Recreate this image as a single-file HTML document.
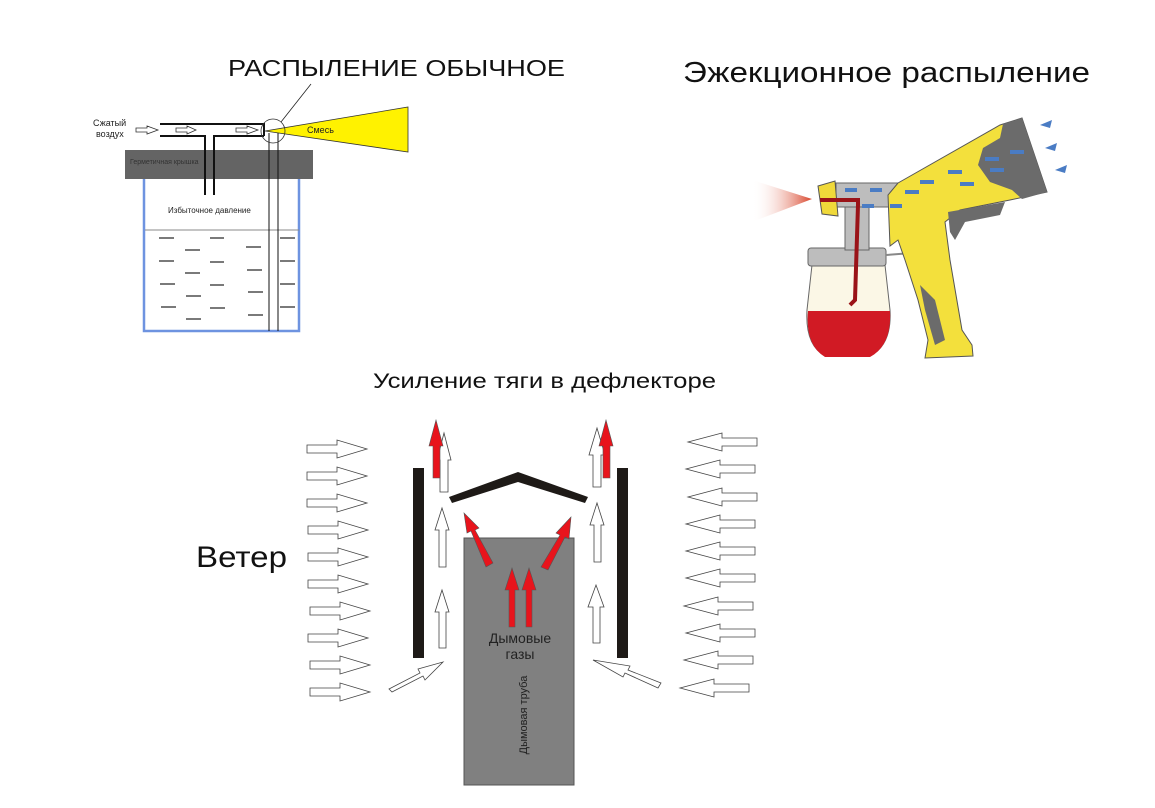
<!DOCTYPE html>
<html><head><meta charset="utf-8"><style>
html,body{margin:0;padding:0;background:#fff;}
svg{display:block;font-family:"Liberation Sans",Arial,sans-serif;}
</style></head><body>
<svg width="1155" height="808" viewBox="0 0 1155 808" xmlns="http://www.w3.org/2000/svg">
<defs>
<linearGradient id="spray" x1="0" x2="1" y1="0" y2="0">
<stop offset="0" stop-color="#fff" stop-opacity="0"/><stop offset="1" stop-color="#d8442a"/></linearGradient>
</defs>

<!-- ===== Top-left diagram ===== -->
<text x="228" y="76" font-size="23" fill="#111" textLength="337" lengthAdjust="spacingAndGlyphs">РАСПЫЛЕНИЕ ОБЫЧНОЕ</text>
<line x1="281" y1="122" x2="311" y2="84" stroke="#222" stroke-width="0.8"/>
<rect x="125" y="150" width="188" height="29" fill="#646464"/>
<text x="130" y="164" font-size="7" fill="#333">Герметичная крышка</text>
<path d="M144 179 V331 H299 V179" fill="none" stroke="#6e93e0" stroke-width="2.5"/>
<line x1="145" y1="230" x2="299" y2="230" stroke="#888" stroke-width="1"/>
<text x="168" y="213" font-size="8" fill="#222">Избыточное давление</text>
<polygon points="265,131 408,107 408,152" fill="#fff200" stroke="#333" stroke-width="0.8"/>
<text x="307" y="133" font-size="9" fill="#222">Смесь</text>
<path d="M160 124 H264 V136 M160 136 H205 V195 M214 195 V136 H264" fill="none" stroke="#111" stroke-width="2"/>
<line x1="269" y1="133" x2="269" y2="331" stroke="#111" stroke-width="1"/>
<line x1="278" y1="133" x2="278" y2="331" stroke="#111" stroke-width="1"/>
<circle cx="273" cy="131" r="12" fill="none" stroke="#333" stroke-width="0.8"/>
<text x="93" y="126" font-size="9" fill="#222">Сжатый</text>
<text x="96" y="137" font-size="9" fill="#222">воздух</text>
<g fill="#fff" stroke="#333" stroke-width="0.8">
<polygon points="136,128 147,128 147,126 158,130 147,134 147,132 136,132"/>
<polygon points="176,128 187,128 187,126 196,130 187,134 187,132 176,132"/>
<polygon points="236,128 247,128 247,126 258,130 247,134 247,132 236,132"/>
</g>
<g stroke="#222" stroke-width="1.2">
<line x1="159" y1="238" x2="174" y2="238"/><line x1="210" y1="238" x2="224" y2="238"/><line x1="246" y1="247" x2="261" y2="247"/><line x1="280" y1="238" x2="295" y2="238"/>
<line x1="185" y1="250" x2="200" y2="250"/>
<line x1="159" y1="261" x2="174" y2="261"/><line x1="210" y1="262" x2="224" y2="262"/><line x1="247" y1="270" x2="262" y2="270"/><line x1="280" y1="261" x2="295" y2="261"/>
<line x1="185" y1="273" x2="200" y2="273"/>
<line x1="160" y1="284" x2="175" y2="284"/><line x1="210" y1="285" x2="224" y2="285"/><line x1="248" y1="292" x2="263" y2="292"/><line x1="280" y1="284" x2="295" y2="284"/>
<line x1="186" y1="296" x2="201" y2="296"/>
<line x1="161" y1="307" x2="176" y2="307"/><line x1="210" y1="308" x2="225" y2="308"/><line x1="248" y1="315" x2="263" y2="315"/><line x1="280" y1="307" x2="295" y2="307"/>
<line x1="186" y1="319" x2="201" y2="319"/>
</g>

<!-- ===== Spray gun ===== -->
<text x="683" y="82" font-size="29" fill="#111" textLength="407" lengthAdjust="spacingAndGlyphs">Эжекционное распыление</text>
<polygon points="752,180 812,199 752,222" fill="url(#spray)"/>
<path d="M812 265 H885 L890 310 Q892 345 870 356 H825 Q805 345 807 310 Z" fill="#fbf7e6" stroke="#666" stroke-width="1"/>
<path d="M808 311 H890 Q892 345 870 357 H825 Q805 345 808 311 Z" fill="#d11a24"/>
<rect x="808" y="248" width="78" height="18" rx="3" fill="#bdbdbd" stroke="#666"/>
<rect x="845" y="200" width="24" height="50" fill="#bdbdbd" stroke="#666"/>
<rect x="836" y="183" width="66" height="24" fill="#bdbdbd" stroke="#666"/>
<polygon points="818,186 835,181 838,216 822,214" fill="#f0d93a" stroke="#555"/>
<path d="M820 200 H858 V205 L855 300 L850 305" fill="none" stroke="#9a1318" stroke-width="4"/>
<path d="M886 255 L925 252" stroke="#888" stroke-width="2"/>
<polygon points="898,183 1000,125 1022,118 1047,192 1010,200 960,210 945,222 950,260 962,330 972,345 973,356 925,358 928,340 918,300 905,260 898,240 890,246 888,195" fill="#f3e03c" stroke="#555" stroke-width="1"/>
<polygon points="1003,124 1022,118 1047,192 1022,199 1012,190 990,182 978,165 983,148 1000,138" fill="#6b6b6b"/>
<polygon points="948,212 1005,202 1000,215 965,222 955,240 950,232" fill="#6b6b6b"/>
<polygon points="920,285 935,300 945,340 935,345 925,310" fill="#6b6b6b"/>
<g fill="#4a7cc4">
<polygon points="1040,125 1052,120 1050,128"/><polygon points="1045,148 1057,143 1055,151"/><polygon points="1055,170 1067,165 1065,173"/>
<rect x="1010" y="150" width="14" height="4"/><rect x="985" y="157" width="14" height="4"/><rect x="990" y="168" width="14" height="4"/>
<rect x="948" y="170" width="14" height="4"/><rect x="920" y="180" width="14" height="4"/><rect x="960" y="182" width="14" height="4"/>
<rect x="905" y="190" width="14" height="4"/><rect x="870" y="188" width="12" height="4"/><rect x="845" y="188" width="12" height="4"/>
<rect x="862" y="204" width="12" height="4"/><rect x="890" y="204" width="12" height="4"/>
</g>

<!-- ===== Deflector ===== -->
<text x="373" y="388" font-size="21" fill="#111" textLength="343" lengthAdjust="spacingAndGlyphs">Усиление тяги в дефлекторе</text>
<text x="196" y="567" font-size="30" fill="#111" textLength="91" lengthAdjust="spacingAndGlyphs">Ветер</text>
<rect x="464" y="538" width="110" height="247" fill="#808080" stroke="#555" stroke-width="1"/>
<rect x="413" y="468" width="11" height="190" fill="#1e1a17"/>
<rect x="617" y="468" width="11" height="190" fill="#1e1a17"/>
<polygon points="449,497 518,472 588,497 585,503 518,482 452,503" fill="#1e1a17"/>
<text x="520" y="643" font-size="14" fill="#222" text-anchor="middle">Дымовые</text>
<text x="520" y="659" font-size="14" fill="#222" text-anchor="middle">газы</text>
<text transform="translate(527,715) rotate(-90)" font-size="11" fill="#222" text-anchor="middle">Дымовая труба</text>

<g fill="#fff" stroke="#444" stroke-width="0.8">
<polygon points="307,445 337,445 337,440 367,449 337,458 337,453 307,453"/>
<polygon points="307,472 337,472 337,467 367,476 337,485 337,480 307,480"/>
<polygon points="307,499 337,499 337,494 367,503 337,512 337,507 307,507"/>
<polygon points="308,526 338,526 338,521 368,530 338,539 338,534 308,534"/>
<polygon points="308,553 338,553 338,548 368,557 338,566 338,561 308,561"/>
<polygon points="308,580 338,580 338,575 368,584 338,593 338,588 308,588"/>
<polygon points="310,607 340,607 340,602 370,611 340,620 340,615 310,615"/>
<polygon points="308,634 338,634 338,629 368,638 338,647 338,642 308,642"/>
<polygon points="310,661 340,661 340,656 370,665 340,674 340,669 310,669"/>
<polygon points="310,688 340,688 340,683 370,692 340,701 340,696 310,696"/>
<polygon points="757,438 722,438 722,433 688,442 722,451 722,446 757,446"/>
<polygon points="755,465 720,465 720,460 686,469 720,478 720,473 755,473"/>
<polygon points="757,493 722,493 722,488 688,497 722,506 722,501 757,501"/>
<polygon points="755,520 720,520 720,515 686,524 720,533 720,528 755,528"/>
<polygon points="755,547 720,547 720,542 686,551 720,560 720,555 755,555"/>
<polygon points="755,574 720,574 720,569 686,578 720,587 720,582 755,582"/>
<polygon points="753,602 718,602 718,597 684,606 718,615 718,610 753,610"/>
<polygon points="755,629 720,629 720,624 686,633 720,642 720,637 755,637"/>
<polygon points="753,656 718,656 718,651 684,660 718,669 718,664 753,664"/>
<polygon points="749,684 714,684 714,679 680,688 714,697 714,692 749,692"/>
<polygon points="440,492 448,492 448,460 451,460 444,433 437,460 440,460"/>
<polygon points="439,567 446,567 446,530 449,530 442,508 435,530 439,530"/>
<polygon points="439,648 446,648 446,612 449,612 442,590 435,612 439,612"/>
<polygon points="593,487 601,487 601,455 605,455 597,428 589,455 593,455"/>
<polygon points="594,562 601,562 601,525 604,525 597,503 590,525 594,525"/>
<polygon points="593,643 600,643 600,607 604,607 596,585 588,607 593,607"/>
<polygon points="389,689 420,673 418,669 443,662 425,680 423,676 392,692"/>
<polygon points="661,683 628,670 630,666 593,660 623,677 625,673 658,688"/>
</g>
<g fill="#e8141c" stroke="#555" stroke-width="0.6">
<polygon points="433,478 440,478 440,446 443,446 436,420 429,446 433,446"/>
<polygon points="603,478 610,478 610,446 613,446 606,420 599,446 603,446"/>
<polygon points="509,627 515,627 515,590 519,590 512,568 505,590 509,590"/>
<polygon points="526,627 532,627 532,590 536,590 529,568 522,590 526,590"/>
<polygon points="486,567 493,563 475,530 479,528 464,513 467,533 471,531"/>
<polygon points="541,567 548,570 565,537 569,539 571,517 556,533 560,535"/>
</g>
</svg>
</body></html>
